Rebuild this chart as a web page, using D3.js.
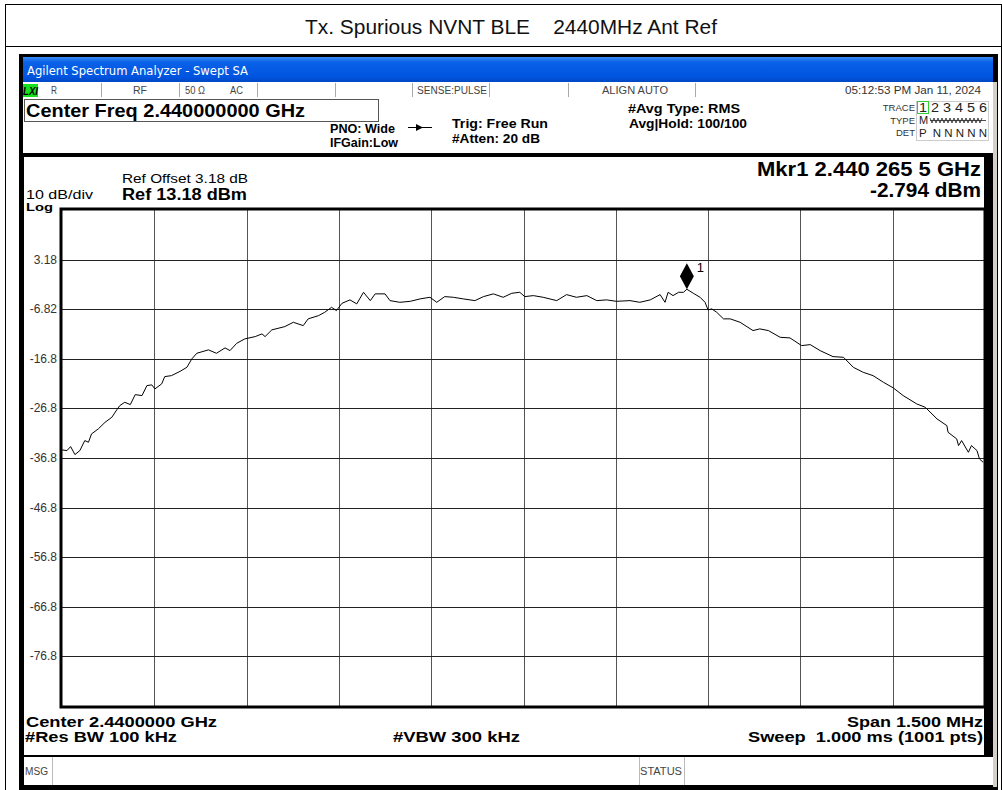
<!DOCTYPE html>
<html>
<head>
<meta charset="utf-8">
<script src="https://cdn.jsdelivr.net/npm/d3@7"></script>
<style>
  body { margin: 0; background: #fff; }
  svg { display: block; font-family: "Liberation Sans", Arial, sans-serif; }
</style>
</head>
<body>
<svg width="1002" height="790"></svg>
<script>
// trace (MHz, dBm)
var freqMHz = [
  2439.250, 2439.258, 2439.264, 2439.271, 2439.279, 2439.287, 2439.293, 2439.298, 2439.309, 2439.320,
  2439.331, 2439.339, 2439.344, 2439.352, 2439.361, 2439.369, 2439.380, 2439.388, 2439.396, 2439.401,
  2439.412, 2439.417, 2439.428, 2439.442, 2439.453, 2439.461, 2439.469, 2439.488, 2439.501, 2439.515,
  2439.523, 2439.534, 2439.547, 2439.564, 2439.575, 2439.580, 2439.591, 2439.612, 2439.626, 2439.642,
  2439.650, 2439.667, 2439.677, 2439.688, 2439.696, 2439.705, 2439.718, 2439.729, 2439.740, 2439.751,
  2439.759, 2439.775, 2439.783, 2439.799, 2439.816, 2439.832, 2439.848, 2439.859, 2439.872, 2439.886,
  2439.902, 2439.921, 2439.935, 2439.951, 2439.967, 2439.981, 2439.994, 2440.002, 2440.016, 2440.032,
  2440.054, 2440.070, 2440.086, 2440.103, 2440.119, 2440.135, 2440.151, 2440.173, 2440.189, 2440.206,
  2440.222, 2440.230, 2440.235, 2440.243, 2440.252, 2440.260, 2440.2655, 2440.276, 2440.287, 2440.295,
  2440.300, 2440.306, 2440.314, 2440.325, 2440.336, 2440.352, 2440.373, 2440.384, 2440.398, 2440.417,
  2440.433, 2440.452, 2440.466, 2440.482, 2440.503, 2440.520, 2440.536, 2440.552, 2440.568, 2440.585,
  2440.601, 2440.617, 2440.639, 2440.653, 2440.672, 2440.688, 2440.690, 2440.704, 2440.707, 2440.712,
  2440.723, 2440.728, 2440.737, 2440.741, 2440.747
];
var levelDbm = [
  -35.19, -35.33, -34.52, -36.13, -35.33, -33.31, -33.65, -31.96, -30.95, -29.62,
  -28.61, -27.12, -26.25, -25.59, -26.05, -24.04, -24.24, -22.22, -22.08, -22.89,
  -21.88, -20.41, -20.21, -19.34, -18.53, -16.84, -15.71, -15.02, -15.71, -14.62,
  -15.17, -13.69, -12.81, -12.34, -11.80, -12.34, -10.99, -10.33, -9.46, -10.13,
  -8.77, -8.11, -7.44, -6.44, -7.10, -5.63, -4.94, -5.75, -3.41, -5.09,
  -3.73, -3.73, -5.09, -5.43, -5.23, -4.74, -4.42, -5.43, -4.28, -4.42,
  -4.74, -5.09, -4.28, -3.73, -4.42, -3.61, -3.41, -4.28, -4.08, -4.42,
  -5.09, -3.88, -4.42, -4.08, -5.09, -4.94, -5.23, -5.09, -5.43, -4.94,
  -3.88, -5.43, -3.41, -4.08, -3.41, -3.41, -2.794, -3.61, -4.42, -5.43,
  -6.96, -6.76, -7.44, -8.77, -8.77, -9.46, -11.13, -10.79, -11.13, -12.48,
  -12.61, -14.16, -13.96, -15.17, -16.38, -16.52, -18.53, -19.54, -20.21, -21.56,
  -22.69, -24.24, -25.91, -26.60, -28.94, -30.29, -31.64, -32.97, -34.32, -33.31,
  -35.67, -34.32, -35.33, -37.00, -37.68
];
var yTickLabels = ["3.18", "-6.82", "-16.8", "-26.8", "-36.8", "-46.8", "-56.8", "-66.8", "-76.8"];
var refLevel = 13.18, dbPerDiv = 10;
var centerMHz = 2440, spanMHz = 1.5;
var marker = {freq: 2440.2655, level: -2.794};

var svg = d3.select("svg");
var plot = {left: 62, right: 985, top: 210, bottom: 706};

var x = d3.scaleLinear()
    .domain([centerMHz - spanMHz / 2, centerMHz + spanMHz / 2])
    .range([plot.left, plot.right]);
var y = d3.scaleLinear()
    .domain([refLevel - 10 * dbPerDiv, refLevel])
    .range([plot.bottom, plot.top]);

// text helper: fixed width so the screen font proportions hold
function label(t, px, py, size, opts) {
  opts = opts || {};
  var el = svg.append("text").attr("x", px).attr("y", py)
      .attr("xml:space", "preserve")
      .style("font-size", size + "px")
      .attr("fill", opts.fill || "#000")
      .attr("text-anchor", opts.anchor || "start")
      .text(t);
  if (opts.bold) el.style("font-weight", "bold");
  if (opts.len) el.attr("textLength", opts.len).attr("lengthAdjust", "spacingAndGlyphs");
  if (opts.family) el.style("font-family", opts.family);
  return el;
}

// page frame + title row
svg.append("rect").attr("x", 5.5).attr("y", 4.5).attr("width", 996).attr("height", 800)
    .attr("fill", "none").attr("stroke", "#000");
svg.append("line").attr("x1", 5).attr("x2", 1002).attr("y1", 46.5).attr("y2", 46.5).attr("stroke", "#000");
label("Tx. Spurious NVNT BLE    2440MHz Ant Ref", 305, 34, 20.5, {fill: "#111", len: 412});

// analyzer window
svg.append("rect").attr("x", 19).attr("y", 54).attr("width", 979).attr("height", 740).attr("fill", "#000");
svg.append("rect").attr("x", 993).attr("y", 82).attr("width", 4).attr("height", 705).attr("fill", "#d4d0c8");

var defs = svg.append("defs");
var grad = defs.append("linearGradient").attr("id", "tb").attr("x1", 0).attr("x2", 0).attr("y1", 0).attr("y2", 1);
grad.append("stop").attr("offset", "0%").attr("stop-color", "#3a8cf4");
grad.append("stop").attr("offset", "20%").attr("stop-color", "#0a62e8");
grad.append("stop").attr("offset", "80%").attr("stop-color", "#0054e0");
grad.append("stop").attr("offset", "100%").attr("stop-color", "#0048c4");
svg.append("rect").attr("x", 23).attr("y", 57).attr("width", 970).attr("height", 25).attr("fill", "url(#tb)");
label("Agilent Spectrum Analyzer - Swept SA", 27, 75, 12.5,
      {fill: "#fff", len: 221, family: "'DejaVu Sans Condensed', 'Liberation Sans', sans-serif"});

// status strip
svg.append("rect").attr("x", 23).attr("y", 82).attr("width", 970).attr("height", 16).attr("fill", "#fff");
svg.append("rect").attr("x", 23).attr("y", 84).attr("width", 15).attr("height", 13).attr("fill", "#19e01e");
label("LXI", 23, 95, 10, {bold: true, len: 15}).style("font-style", "italic");
[101, 179, 257, 335, 412, 489, 568, 695].forEach(function(sx) {
  svg.append("line").attr("x1", sx + 0.5).attr("x2", sx + 0.5).attr("y1", 83).attr("y2", 97).attr("stroke", "#aaa");
});
var strip = [["R", 51, 6], ["RF", 133, 14], ["50 Ω", 185, 20], ["AC", 230, 13], ["SENSE:PULSE", 417, 70], ["ALIGN AUTO", 602, 66]];
strip.forEach(function(s) {
  label(s[0], s[1], 94, 10, {fill: "#444", len: s[2]});
});
label("05:12:53 PM Jan 11, 2024", 845, 94, 10.5, {fill: "#333", len: 136});

// settings block
svg.append("rect").attr("x", 23).attr("y", 98).attr("width", 970).attr("height", 55).attr("fill", "#fff");
svg.append("rect").attr("x", 24.5).attr("y", 99.5).attr("width", 354).attr("height", 22)
    .attr("fill", "none").attr("stroke", "#555");
label("Center Freq 2.440000000 GHz", 26, 117, 18, {bold: true, len: 279});
var bold11 = [["PNO: Wide", 330, 133, 65], ["IFGain:Low", 330, 147, 68], ["Trig: Free Run", 452, 128, 96],
              ["#Atten: 20 dB", 452, 143, 88], ["#Avg Type: RMS", 628, 113, 112], ["Avg|Hold: 100/100", 629, 128, 118]];
bold11.forEach(function(s) {
  label(s[0], s[1], s[2], 12.5, {bold: true, len: s[3]});
});
svg.append("line").attr("x1", 408).attr("x2", 432).attr("y1", 127.5).attr("y2", 127.5).attr("stroke", "#000");
svg.append("path").attr("d", "M416,124 L423,127.5 L416,131 Z").attr("fill", "#000");

// trace table
svg.append("rect").attr("x", 916.5).attr("y", 101.5).attr("width", 72).attr("height", 39).attr("fill", "none").attr("stroke", "#ccc");
svg.append("rect").attr("x", 917.5).attr("y", 101.5).attr("width", 11).attr("height", 12).attr("fill", "none").attr("stroke", "#3c3");
[["TRACE", 111], ["TYPE", 124], ["DET", 136]].forEach(function(s) {
  label(s[0], 915, s[1], 9.5, {fill: "#333", anchor: "end"});
});
label("1 2 3 4 5 6", 919, 112, 12, {fill: "#222", len: 68});
label("M", 919, 124, 11, {fill: "#222"});
svg.append("path").attr("d", "M930,118 l2,5 l2,-5 l2,5 l2,-5 l2,5 l2,-5 l2,5 l2,-5 l2,5 l2,-5 l2,5 l2,-5 l2,5 l2,-5 l2,5 l2,-5 l2,5 l2,-5 l2,5 l2,-5 l2,5 l2,-5 l2,5 l2,-5 l2,5 l2,-5 M930,120.5 L986,120.5")
    .attr("fill", "none").attr("stroke", "#222").attr("stroke-width", 0.8);
label("P  N N N N N", 919, 137, 11.5, {fill: "#222", len: 68});

// graph panel
svg.append("rect").attr("x", 24).attr("y", 157).attr("width", 960).attr("height", 598).attr("fill", "#fff");
svg.append("rect").attr("x", 24).attr("y", 757).attr("width", 969).attr("height", 28).attr("fill", "#fff");
[52, 639, 684].forEach(function(sx) {
  svg.append("line").attr("x1", sx + 0.5).attr("x2", sx + 0.5).attr("y1", 757).attr("y2", 785).attr("stroke", "#bbb");
});
label("MSG", 25, 775, 10, {fill: "#444", len: 23});
label("STATUS", 640, 775, 10, {fill: "#444", len: 42});

label("Ref Offset 3.18 dB", 122, 183, 13, {len: 126});
label("Ref 13.18 dBm", 122, 200, 16, {bold: true, len: 125});
label("10 dB/div", 26, 199, 12.5, {len: 67});
label("Log", 26, 211, 11.5, {bold: true, len: 27});
label("Mkr1 2.440 265 5 GHz", 757, 176, 19.5, {bold: true, len: 224});
label("-2.794 dBm", 870, 197, 19.5, {bold: true, len: 111});

var g = svg.append("g");
var xGrid = d3.range(1, 10).map(function(i) { return x.domain()[0] + i * spanMHz / 10; });
var yGrid = d3.range(1, 10).map(function(i) { return refLevel - i * dbPerDiv; });
g.selectAll(".vg").data(xGrid).enter().append("line")
    .attr("x1", function(d) { return Math.round(x(d)) + 0.5; })
    .attr("x2", function(d) { return Math.round(x(d)) + 0.5; })
    .attr("y1", plot.top).attr("y2", plot.bottom)
    .attr("stroke", "#555");
g.selectAll(".hg").data(yGrid).enter().append("line")
    .attr("x1", plot.left).attr("x2", plot.right)
    .attr("y1", function(d) { return Math.round(y(d)) + 0.5; })
    .attr("y2", function(d) { return Math.round(y(d)) + 0.5; })
    .attr("stroke", "#222");
g.selectAll(".yl").data(yGrid).enter().append("text")
    .attr("x", 57).attr("y", function(d) { return y(d) + 4; })
    .attr("text-anchor", "end").style("font-size", "12px").attr("fill", "#333")
    .text(function(d, i) { return yTickLabels[i]; });

// plot frame
g.append("rect").attr("x", plot.left - 1).attr("y", plot.top - 1)
    .attr("width", plot.right - plot.left + 1).attr("height", plot.bottom - plot.top + 2)
    .attr("fill", "none").attr("stroke", "#000").attr("stroke-width", 3);
svg.append("rect").attr("x", 984).attr("y", 157).attr("width", 4).attr("height", 600).attr("fill", "#000");

// trace
var line = d3.line()
    .x(function(d, i) { return x(freqMHz[i]); })
    .y(function(d) { return y(d); });
g.append("path").datum(levelDbm)
    .attr("d", line)
    .attr("fill", "none").attr("stroke", "#000").attr("stroke-width", 1);

// marker 1
var mx = x(marker.freq), my = y(marker.level);
g.append("path")
    .attr("d", "M" + mx + "," + my + " l-7,-13 l7,-13 l7,13 Z")
    .attr("fill", "#000");
g.append("text").attr("x", mx + 10).attr("y", my - 17).style("font-size", "13px").text("1");

// footer annotations
var foot = [["Center 2.4400000 GHz", 26, 727, 191], ["#Res BW 100 kHz", 25, 742, 152],
            ["#VBW 300 kHz", 393, 742, 127], ["Span 1.500 MHz", 847, 727, 136],
            ["Sweep  1.000 ms (1001 pts)", 748, 742, 235]];
foot.forEach(function(s) {
  label(s[0], s[1], s[2], 15, {bold: true, len: s[3]});
});
</script>
</body>
</html>
